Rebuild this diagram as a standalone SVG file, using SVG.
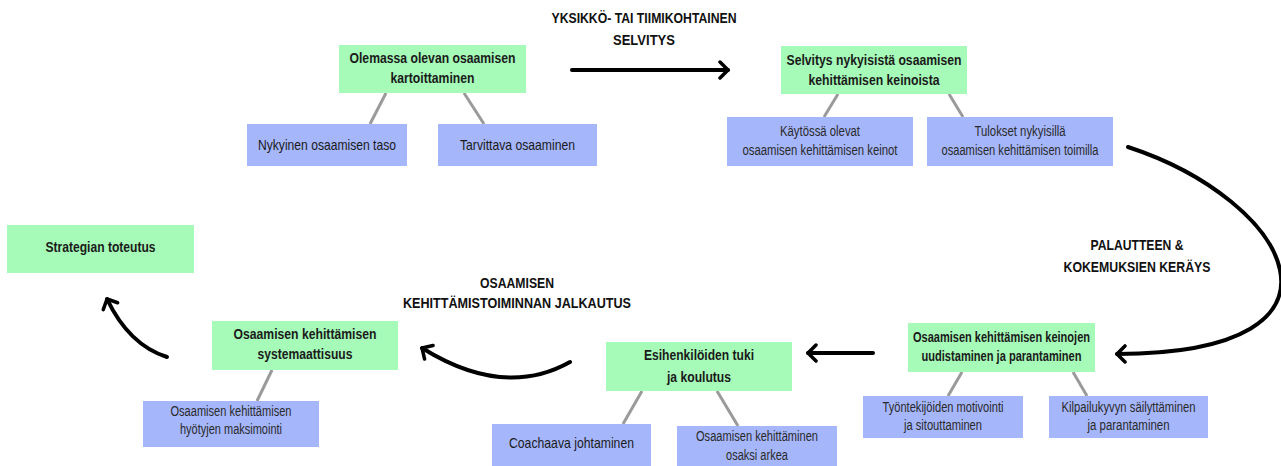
<svg xmlns="http://www.w3.org/2000/svg" width="1281" height="466" viewBox="0 0 1281 466">
  <defs>
    <marker id="chev" viewBox="0 0 12 20" refX="10" refY="10" markerWidth="12" markerHeight="20" markerUnits="userSpaceOnUse" orient="auto">
      <path d="M2,2 L10,10 L2,18" fill="none" stroke="#000" stroke-width="3.5" stroke-linecap="round" stroke-linejoin="round"/>
    </marker>
  </defs>
  <style>
    .main { fill: #a6fbb8; }
    .sub { fill: #a5b6fb; }
    text { font-family: "Liberation Sans", Arial, sans-serif; text-anchor: middle; }
    .t { font-size: 15px; fill: #1a1a1a; }
    .b { font-weight: bold; }
    .s { font-size: 14px; fill: #2a2a2a; }
    .lbl { font-size: 15px; font-weight: bold; fill: #111; }
    .link { stroke: #9a9a9a; stroke-width: 3; fill: none; }
    .flow { stroke: #000; stroke-width: 4; fill: none; stroke-linecap: round; marker-end: url(#chev); }
  </style>
  <rect width="1281" height="466" fill="#fff"/>

  <!-- tree links -->
  <g id="links">
    <line class="link" x1="386" y1="93" x2="370" y2="124"/>
    <line class="link" x1="464" y1="93" x2="484" y2="124"/>
    <line class="link" x1="838" y1="94" x2="824" y2="117"/>
    <line class="link" x1="949" y1="94" x2="963" y2="117"/>
    <line class="link" x1="962" y1="372" x2="948" y2="396"/>
    <line class="link" x1="1073" y1="372" x2="1087" y2="396"/>
    <line class="link" x1="642" y1="391" x2="623" y2="424"/>
    <line class="link" x1="717" y1="391" x2="738" y2="426"/>
    <line class="link" x1="272" y1="370" x2="257" y2="401"/>
  </g>

  <!-- process flow arrows -->
  <g id="flow">
    <path class="flow" d="M572,70 L728,70"/>
    <path class="flow" d="M1128,147 C1290,200 1375,353 1117,354"/>
    <path class="flow" d="M873,353 L808,353"/>
    <path class="flow" d="M570,362 Q504,399 422,348"/>
    <path class="flow" d="M167,357 Q129,345 107,299"/>
  </g>

  <g id="flow-labels">
    <text class="lbl" x="644" y="23" textLength="185" lengthAdjust="spacingAndGlyphs">YKSIKKÖ- TAI TIIMIKOHTAINEN</text>
    <text class="lbl" x="644" y="45" textLength="62" lengthAdjust="spacingAndGlyphs">SELVITYS</text>
    <text class="lbl" x="1137" y="250" textLength="93" lengthAdjust="spacingAndGlyphs">PALAUTTEEN &amp;</text>
    <text class="lbl" x="1137" y="272" textLength="147" lengthAdjust="spacingAndGlyphs">KOKEMUKSIEN KERÄYS</text>
    <text class="lbl" x="517" y="288" textLength="74" lengthAdjust="spacingAndGlyphs">OSAAMISEN</text>
    <text class="lbl" x="517" y="308" textLength="228" lengthAdjust="spacingAndGlyphs">KEHITTÄMISTOIMINNAN JALKAUTUS</text>
  </g>

  <g id="kartoitus">
    <rect class="main" x="339" y="45" width="187" height="48"/>
    <text class="t b" x="432.5" y="63" textLength="166" lengthAdjust="spacingAndGlyphs">Olemassa olevan osaamisen</text>
    <text class="t b" x="432.5" y="83" textLength="84" lengthAdjust="spacingAndGlyphs">kartoittaminen</text>
  </g>
  <g id="nykyinen-taso">
    <rect class="sub" x="247" y="124" width="160" height="42"/>
    <text class="t" x="327" y="150" textLength="138" lengthAdjust="spacingAndGlyphs">Nykyinen osaamisen taso</text>
  </g>
  <g id="tarvittava">
    <rect class="sub" x="438" y="124" width="159" height="42"/>
    <text class="t" x="517.5" y="150" textLength="115" lengthAdjust="spacingAndGlyphs">Tarvittava osaaminen</text>
  </g>

  <g id="selvitys">
    <rect class="main" x="781" y="46" width="186" height="48"/>
    <text class="t b" x="874" y="65" textLength="175" lengthAdjust="spacingAndGlyphs">Selvitys nykyisistä osaamisen</text>
    <text class="t b" x="874" y="85" textLength="131" lengthAdjust="spacingAndGlyphs">kehittämisen keinoista</text>
  </g>
  <g id="kaytossa">
    <rect class="sub" x="727" y="117" width="186" height="49"/>
    <text class="t s" x="820" y="136" textLength="80" lengthAdjust="spacingAndGlyphs">Käytössä olevat</text>
    <text class="t s" x="820" y="155" textLength="155" lengthAdjust="spacingAndGlyphs">osaamisen kehittämisen  keinot</text>
  </g>
  <g id="tulokset">
    <rect class="sub" x="927" y="117" width="186" height="49"/>
    <text class="t s" x="1020" y="136" textLength="91" lengthAdjust="spacingAndGlyphs">Tulokset nykyisillä</text>
    <text class="t s" x="1020" y="155" textLength="157" lengthAdjust="spacingAndGlyphs">osaamisen kehittämisen toimilla</text>
  </g>

  <g id="uudistaminen">
    <rect class="main" x="908" y="323" width="187" height="49"/>
    <text class="t b" x="1001.5" y="342" textLength="177" lengthAdjust="spacingAndGlyphs">Osaamisen kehittämisen keinojen</text>
    <text class="t b" x="1001.5" y="361" textLength="160" lengthAdjust="spacingAndGlyphs">uudistaminen ja parantaminen</text>
  </g>
  <g id="motivointi">
    <rect class="sub" x="863" y="396" width="160" height="42"/>
    <text class="t s" x="943" y="412" textLength="121" lengthAdjust="spacingAndGlyphs">Työntekijöiden motivointi</text>
    <text class="t s" x="943" y="430" textLength="78" lengthAdjust="spacingAndGlyphs">ja sitouttaminen</text>
  </g>
  <g id="kilpailukyky">
    <rect class="sub" x="1049" y="396" width="159" height="42"/>
    <text class="t s" x="1128.5" y="412" textLength="134" lengthAdjust="spacingAndGlyphs">Kilpailukyvyn säilyttäminen</text>
    <text class="t s" x="1128.5" y="430" textLength="82" lengthAdjust="spacingAndGlyphs">ja parantaminen</text>
  </g>

  <g id="esihenkilot">
    <rect class="main" x="606" y="342" width="186" height="49"/>
    <text class="t b" x="699" y="360" textLength="110" lengthAdjust="spacingAndGlyphs">Esihenkilöiden tuki</text>
    <text class="t b" x="699" y="382" textLength="64" lengthAdjust="spacingAndGlyphs">ja koulutus</text>
  </g>
  <g id="coachaava">
    <rect class="sub" x="492" y="424" width="159" height="42"/>
    <text class="t" x="571.5" y="448" textLength="125" lengthAdjust="spacingAndGlyphs">Coachaava johtaminen</text>
  </g>
  <g id="osaksi-arkea">
    <rect class="sub" x="677" y="426" width="160" height="40"/>
    <text class="t s" x="757" y="441" textLength="122" lengthAdjust="spacingAndGlyphs">Osaamisen kehittäminen</text>
    <text class="t s" x="757" y="460" textLength="62" lengthAdjust="spacingAndGlyphs">osaksi arkea</text>
  </g>

  <g id="systemaattisuus">
    <rect class="main" x="212" y="321" width="186" height="49"/>
    <text class="t b" x="305" y="339" textLength="143" lengthAdjust="spacingAndGlyphs">Osaamisen kehittämisen</text>
    <text class="t b" x="305" y="359" textLength="95" lengthAdjust="spacingAndGlyphs">systemaattisuus</text>
  </g>
  <g id="hyodyt">
    <rect class="sub" x="143" y="401" width="176" height="46"/>
    <text class="t s" x="231" y="416" textLength="121" lengthAdjust="spacingAndGlyphs">Osaamisen kehittämisen</text>
    <text class="t s" x="231" y="434" textLength="102" lengthAdjust="spacingAndGlyphs">hyötyjen maksimointi</text>
  </g>

  <g id="strategia">
    <rect class="main" x="7" y="225" width="187" height="48"/>
    <text class="t b" x="100.5" y="252" textLength="110" lengthAdjust="spacingAndGlyphs">Strategian toteutus</text>
  </g>
</svg>
